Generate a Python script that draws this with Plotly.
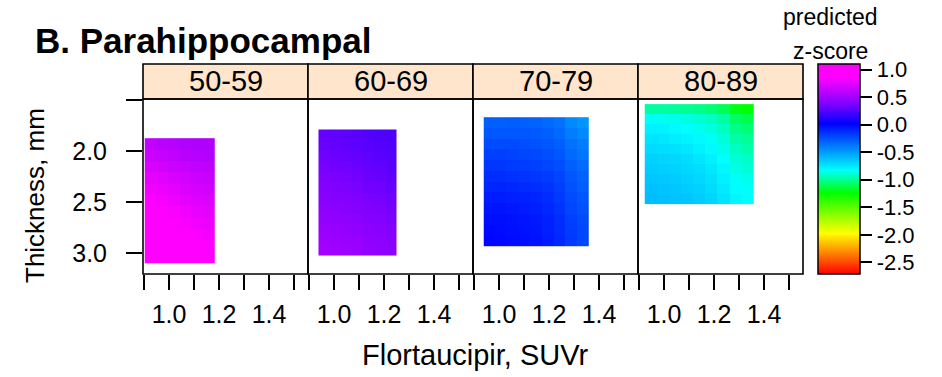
import numpy as np
import plotly.graph_objects as go

W, H = 942, 377
FONT = "Liberation Sans, Arial, Helvetica, sans-serif"

age_groups = ["50-59", "60-69", "70-79", "80-89"]

# Observed flortaucipir SUVr and thickness extents within each age group
suvr_lo = [0.903, 0.938, 0.939, 0.923]
suvr_hi = [1.183, 1.249, 1.359, 1.359]
thick_lo = [1.875, 1.790, 1.670, 1.542]
thick_hi = [3.098, 3.020, 2.934, 2.517]

# Predicted z-score grids (rows: thin -> thick, columns: low -> high SUVr)
z_50_59 = [
    [0.62, 0.60, 0.58, 0.56, 0.55, 0.55],
    [0.66, 0.64, 0.61, 0.59, 0.58, 0.57],
    [0.71, 0.69, 0.66, 0.64, 0.62, 0.61],
    [0.76, 0.74, 0.71, 0.68, 0.66, 0.65],
    [0.80, 0.78, 0.75, 0.72, 0.70, 0.68],
    [0.84, 0.82, 0.79, 0.76, 0.73, 0.72],
    [0.87, 0.85, 0.83, 0.80, 0.77, 0.75],
    [0.90, 0.88, 0.86, 0.83, 0.80, 0.78],
    [0.93, 0.91, 0.89, 0.86, 0.83, 0.81],
    [0.95, 0.94, 0.92, 0.89, 0.86, 0.84],
    [0.97, 0.96, 0.94, 0.91, 0.89, 0.87],
]
z_60_69 = [
    [0.30, 0.29, 0.28, 0.27, 0.25, 0.24, 0.23],
    [0.31, 0.30, 0.29, 0.28, 0.27, 0.25, 0.24],
    [0.33, 0.32, 0.31, 0.30, 0.28, 0.27, 0.26],
    [0.35, 0.34, 0.33, 0.32, 0.30, 0.29, 0.27],
    [0.37, 0.36, 0.35, 0.34, 0.32, 0.31, 0.29],
    [0.39, 0.38, 0.37, 0.36, 0.34, 0.33, 0.31],
    [0.41, 0.40, 0.39, 0.38, 0.36, 0.35, 0.33],
    [0.43, 0.42, 0.41, 0.40, 0.38, 0.37, 0.35],
    [0.45, 0.44, 0.43, 0.42, 0.40, 0.39, 0.37],
    [0.47, 0.46, 0.45, 0.44, 0.42, 0.41, 0.39],
    [0.49, 0.48, 0.47, 0.46, 0.44, 0.43, 0.41],
    [0.51, 0.50, 0.48, 0.47, 0.45, 0.44, 0.42],
]
z_70_79 = [
    [-0.30, -0.30, -0.29, -0.30, -0.31, -0.33, -0.36, -0.44, -0.48],
    [-0.27, -0.27, -0.27, -0.27, -0.28, -0.30, -0.33, -0.40, -0.44],
    [-0.23, -0.23, -0.23, -0.24, -0.25, -0.27, -0.30, -0.36, -0.40],
    [-0.19, -0.19, -0.20, -0.21, -0.22, -0.24, -0.27, -0.33, -0.37],
    [-0.16, -0.16, -0.17, -0.18, -0.19, -0.21, -0.24, -0.30, -0.34],
    [-0.13, -0.13, -0.14, -0.15, -0.16, -0.18, -0.21, -0.27, -0.31],
    [-0.10, -0.10, -0.11, -0.12, -0.13, -0.15, -0.19, -0.25, -0.29],
    [-0.07, -0.07, -0.08, -0.09, -0.10, -0.13, -0.17, -0.23, -0.27],
    [-0.05, -0.05, -0.06, -0.07, -0.08, -0.11, -0.15, -0.21, -0.25],
    [-0.03, -0.03, -0.04, -0.05, -0.06, -0.09, -0.13, -0.19, -0.23],
    [-0.01, -0.02, -0.03, -0.04, -0.05, -0.08, -0.12, -0.18, -0.22],
    [0.00, -0.01, -0.02, -0.03, -0.04, -0.07, -0.11, -0.17, -0.21],
]
z_80_89 = [
    [-0.98, -0.98, -0.99, -1.00, -1.02, -1.05, -1.10, -1.20, -1.24],
    [-0.84, -0.85, -0.86, -0.88, -0.90, -0.93, -0.98, -1.08, -1.12],
    [-0.78, -0.79, -0.81, -0.83, -0.85, -0.88, -0.93, -1.02, -1.05],
    [-0.74, -0.75, -0.77, -0.79, -0.81, -0.84, -0.89, -0.97, -1.00],
    [-0.71, -0.72, -0.73, -0.75, -0.78, -0.81, -0.86, -0.93, -0.96],
    [-0.68, -0.69, -0.70, -0.72, -0.75, -0.78, -0.83, -0.90, -0.92],
    [-0.66, -0.67, -0.68, -0.70, -0.72, -0.75, -0.80, -0.87, -0.89],
    [-0.64, -0.65, -0.66, -0.68, -0.70, -0.73, -0.78, -0.84, -0.86],
    [-0.62, -0.63, -0.64, -0.66, -0.68, -0.71, -0.76, -0.82, -0.84],
    [-0.61, -0.62, -0.63, -0.64, -0.66, -0.69, -0.74, -0.80, -0.82],
]
z_grids = [z_50_59, z_60_69, z_70_79, z_80_89]

# Axis ticks
x_tick_vals = [0.9, 1.0, 1.1, 1.2, 1.3, 1.4, 1.5]
x_tick_text = ["", "1.0", "", "1.2", "", "1.4", ""]
y_tick_vals = [1.5, 2.0, 2.5, 3.0]
y_tick_text = ["", "2.0", "2.5", "3.0"]
cb_tick_vals = [1.0, 0.5, 0.0, -0.5, -1.0, -1.5, -2.0, -2.5]
cb_tick_text = ["1.0", "0.5", "0.0", "-0.5", "-1.0", "-1.5", "-2.0", "-2.5"]

Z_MIN, Z_MAX = -2.71, 1.10
colorscale = [
    [0.000, "#ff0000"],
    [0.194, "#ffff00"],
    [0.386, "#00ff00"],
    [0.494, "#00ffff"],
    [0.716, "#0000ff"],
    [0.810, "#8000ff"],
    [0.934, "#ff00ff"],
    [1.000, "#ff00ff"],
]

X_RANGE = [0.896, 1.556]
Y_RANGE = [3.202, 1.492]

# Panel geometry in pixels
panel_left = [143, 308, 473, 638]
panel_w = 165
panel_top, panel_bottom = 99, 274
strip_top = 64


def px(x):
    return x / W


def py(y):
    return 1 - y / H


fig = go.Figure()
layout = {}
shapes = []
annotations = []

for i, (grp, z) in enumerate(zip(age_groups, z_grids)):
    n_rows, n_cols = len(z), len(z[0])
    x_edges = np.linspace(suvr_lo[i], suvr_hi[i], n_cols + 1)
    y_edges = np.linspace(thick_lo[i], thick_hi[i], n_rows + 1)
    k = "" if i == 0 else str(i + 1)
    fig.add_trace(go.Heatmap(
        x=x_edges, y=y_edges, z=z, coloraxis="coloraxis",
        xaxis="x" + k, yaxis="y" + k, hoverinfo="skip",
    ))

    L = panel_left[i]
    common = dict(
        showline=False, showgrid=False, zeroline=False,
        tickfont=dict(family=FONT, size=25, color="black"),
    )
    layout["xaxis" + k] = dict(
        domain=[px(L), px(L + panel_w)], range=X_RANGE, anchor="y" + k,
        tickmode="array", tickvals=x_tick_vals, ticktext=x_tick_text,
        ticks="outside", ticklen=15, tickwidth=1.5, tickcolor="black",
        ticklabelstandoff=3, **common,
    )
    if i == 0:
        layout["yaxis" + k] = dict(
            domain=[py(panel_bottom), py(panel_top)], range=Y_RANGE,
            anchor="x" + k, tickmode="array", tickvals=y_tick_vals,
            ticktext=y_tick_text, ticks="outside", ticklen=16, tickwidth=1.5,
            tickcolor="black", ticklabelstandoff=14, **common,
        )
    else:
        layout["yaxis" + k] = dict(
            domain=[py(panel_bottom), py(panel_top)], range=Y_RANGE,
            anchor="x" + k, ticks="", showticklabels=False, **common,
        )

    # panel frame
    shapes.append(dict(
        type="rect", xref="paper", yref="paper",
        x0=px(L), x1=px(L + panel_w), y0=py(panel_bottom), y1=py(panel_top),
        line=dict(color="black", width=1.6), fillcolor="rgba(0,0,0,0)",
        layer="above",
    ))
    # strip header
    shapes.append(dict(
        type="rect", xref="paper", yref="paper",
        x0=px(L), x1=px(L + panel_w), y0=py(panel_top), y1=py(strip_top),
        fillcolor="#ffe5cc", line=dict(color="black", width=1.6), layer="below",
    ))
    annotations.append(dict(
        text=grp, xref="paper", yref="paper",
        x=px(L + panel_w / 2), y=py((strip_top + panel_top) / 2),
        xanchor="center", yanchor="middle", showarrow=False,
        font=dict(family=FONT, size=29, color="black"),
    ))

annotations += [
    dict(text="<b>B. Parahippocampal</b>", xref="paper", yref="paper",
         x=px(33), y=py(40), xanchor="left", yanchor="middle", showarrow=False,
         font=dict(family=FONT, size=35, color="black")),
    dict(text="Thickness, mm", xref="paper", yref="paper",
         x=px(35), y=py(196), xanchor="center", yanchor="middle",
         textangle=-90, showarrow=False,
         font=dict(family=FONT, size=26, color="black")),
    dict(text="Flortaucipir, SUVr", xref="paper", yref="paper",
         x=px(475), y=py(355), xanchor="center", yanchor="middle",
         showarrow=False, font=dict(family=FONT, size=29, color="black")),
    dict(text="predicted", xref="paper", yref="paper",
         x=px(830), y=py(17), xanchor="center", yanchor="middle",
         showarrow=False, font=dict(family=FONT, size=23, color="black")),
    dict(text="z-score", xref="paper", yref="paper",
         x=px(830), y=py(51), xanchor="center", yanchor="middle",
         showarrow=False, font=dict(family=FONT, size=23, color="black")),
]

fig.update_layout(
    width=W, height=H,
    margin=dict(l=0, r=0, t=0, b=0),
    paper_bgcolor="white", plot_bgcolor="white",
    showlegend=False,
    shapes=shapes, annotations=annotations,
    coloraxis=dict(
        cmin=Z_MIN, cmax=Z_MAX, colorscale=colorscale,
        colorbar=dict(
            thickness=42, thicknessmode="pixels",
            len=210, lenmode="pixels",
            x=px(818), xanchor="left", y=py(169), yanchor="middle",
            xpad=0, ypad=0, borderwidth=0,
            outlinewidth=1.5, outlinecolor="black",
            ticks="outside", ticklen=12, tickwidth=1.5, tickcolor="black",
            tickmode="array", tickvals=cb_tick_vals, ticktext=cb_tick_text,
            tickfont=dict(family=FONT, size=22, color="black"),
        ),
    ),
    **layout,
)

fig.write_html("out.html")
